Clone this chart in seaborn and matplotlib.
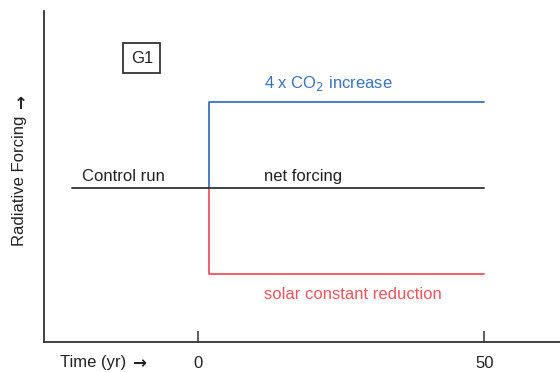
import matplotlib
matplotlib.use("Agg")
import matplotlib.pyplot as plt
import seaborn as sns
import pandas as pd

# Idealised forcing scenario G1: abrupt 4xCO2 offset by a solar reduction
start_year = -22
switch_year = 2
end_year = 50
control_level = 0.0
co2_forcing = 1.0
solar_forcing = -1.0

xtick_values = [0, 50]
xtick_labels = ["0", "50"]

sns.set_theme(style="white")
plt.rcParams["font.family"] = ["Liberation Sans", "DejaVu Sans"]

control = pd.DataFrame({"year": [start_year, end_year],
                        "forcing": [control_level, control_level],
                        "series": "control"})
co2 = pd.DataFrame({"year": [switch_year, switch_year, end_year],
                    "forcing": [control_level, co2_forcing, co2_forcing],
                    "series": "co2"})
solar = pd.DataFrame({"year": [switch_year, switch_year, end_year],
                      "forcing": [control_level, solar_forcing, solar_forcing],
                      "series": "solar"})
df = pd.concat([control, co2, solar], ignore_index=True)

palette = {"control": "#333333", "co2": "#3a72c2", "solar": "#f2535e"}
fs = 12

fig = plt.figure(figsize=(5.6, 3.72), dpi=100)
ax = fig.add_axes([44 / 560, 30 / 372, 1 - 44 / 560, (342 - 11) / 372])

sns.lineplot(data=df, x="year", y="forcing", hue="series", palette=palette,
             hue_order=["co2", "solar", "control"], sort=False,
             estimator=None, linewidth=1.3, legend=False, ax=ax)

ax.set_xlim(-26.8, 63.2)
ax.set_ylim(-1.79, 2.06)
ax.set_xticks(xtick_values)
ax.set_xticklabels(xtick_labels)
ax.set_yticks([])
ax.set_xlabel("")
ax.set_ylabel("")
ax.tick_params(axis="x", direction="in", length=8, width=1.1, color="#333333",
               pad=10, labelsize=fs, labelcolor="#222222", bottom=True)

for side in ["top", "right"]:
    ax.spines[side].set_visible(False)
for side in ["left", "bottom"]:
    ax.spines[side].set_color("#333333")
    ax.spines[side].set_linewidth(1.3)

text_kw = dict(fontsize=fs, va="center")
ax.text(-20.2, 0.13, "Control run", ha="left", color="#222222", **text_kw)
ax.text(11.6, 0.13, "net forcing", ha="left", color="#222222", **text_kw)
ax.text(11.6, 1.22, "4 x CO$_2$ increase", ha="left", color=palette["co2"], **text_kw)
ax.text(11.6, -1.24, "solar constant reduction", ha="left", color=palette["solar"], **text_kw)
ax.text(-9.75, 1.51, "G1", ha="center", color="#222222",
        bbox=dict(boxstyle="square,pad=0.45", facecolor="white",
                  edgecolor="#333333", linewidth=1.3), **text_kw)

arrow_kw = dict(family=["DejaVu Sans"], fontweight="bold", fontsize=fs)
fig.text(60 / 560, 1 - 363 / 372, "Time (yr)", fontsize=fs,
         color="#222222", va="center", ha="left")
fig.text(132 / 560, 1 - 363 / 372, "\u2192", color="#222222", va="center",
         ha="left", **arrow_kw)
fig.text(20 / 560, 1 - 181 / 372, "Radiative Forcing", fontsize=fs,
         color="#222222", va="center", ha="center", rotation=90)
fig.text(21 / 560, 1 - 102 / 372, "\u2192", color="#222222", va="center",
         ha="center", rotation=90, **arrow_kw)

fig.savefig("out.png", dpi=100)
